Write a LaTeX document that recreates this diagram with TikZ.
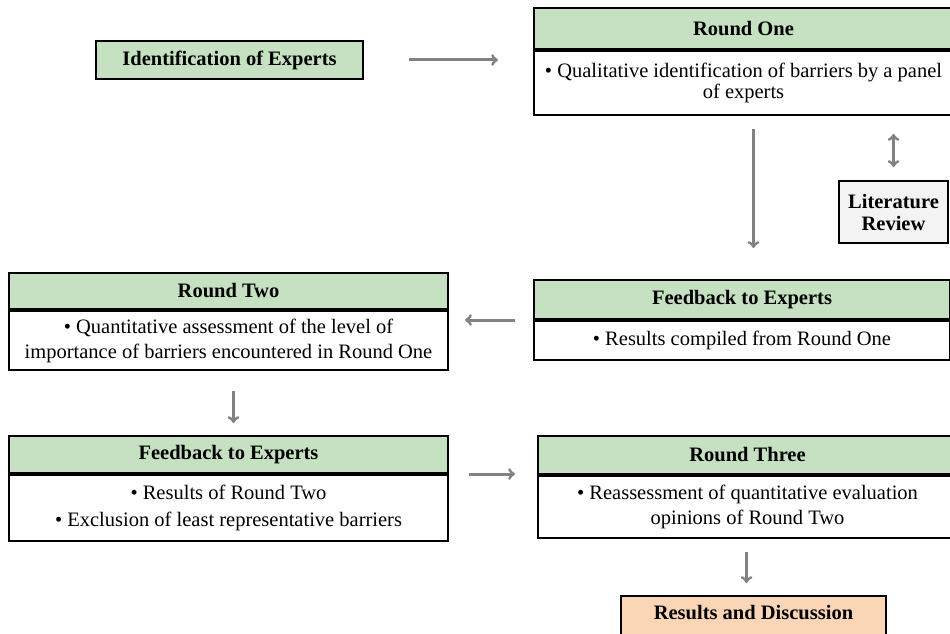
\documentclass[tikz,border=0pt]{standalone}
\usepackage{fontspec}
\setmainfont{Liberation Serif}
\usetikzlibrary{positioning}

\definecolor{hdgreen}{RGB}{197,225,193}
\definecolor{respeach}{RGB}{250,213,182}
\definecolor{litgray}{RGB}{243,243,243}
\definecolor{arrgray}{RGB}{130,130,130}

\begin{document}
\begin{tikzpicture}[x=1pt, y=-1pt, line width=2pt,
  head/.style={draw, fill=hdgreen, anchor=north west, inner sep=0pt,
    font=\fontsize{20.5}{22}\selectfont\bfseries},
  body/.style={draw, fill=white, anchor=north, align=center, inner sep=0pt,
    font=\fontsize{20.5}{25}\selectfont},
  flow/.style={->, arrgray, line width=3pt}]

\useasboundingbox (0,0) rectangle (950,634);

% top row
\node[head, minimum width=267, minimum height=38] (ident) at (95,40) {Identification of Experts};

\node[head, minimum width=419, minimum height=41] (r1head) at (533,7) {Round One};
\node[body, minimum width=419, minimum height=64] (r1body) at (r1head.south)
  {\textbullet{} Qualitative identification of barriers by a panel\\[-4pt]of experts};

\node[head, fill=litgray, align=center, minimum width=109, minimum height=62] (lit) at (838,180)
  {Literature\\Review};

% middle row
\node[head, minimum width=416, minimum height=39] (fb1head) at (533,279) {Feedback to Experts};
\node[body, minimum width=416, minimum height=39] (fb1body) at (fb1head.south)
  {\textbullet{} Results compiled from Round One};

\node[head, minimum width=439, minimum height=36] (r2head) at (8,272) {Round Two};
\node[body, minimum width=439, minimum height=59] (r2body) at (r2head.south)
  {\textbullet{} Quantitative assessment of the level of\\importance of barriers encountered in Round One};

% bottom row
\node[head, minimum width=439, minimum height=37] (fb2head) at (8,435) {Feedback to Experts};
\node[body, minimum width=439, minimum height=66] (fb2body) at (fb2head.south)
  {\textbullet{} Results of Round Two\\[2pt]\textbullet{} Exclusion of least representative barriers};

\node[head, minimum width=419, minimum height=38] (r3head) at (537,435) {Round Three};
\node[body, minimum width=419, minimum height=62] (r3body) at (r3head.south)
  {\textbullet{} Reassessment of quantitative evaluation\\opinions of Round Two};

\node[head, fill=respeach, minimum width=265, minimum height=56,
  text height=14pt, text depth=24pt] (res) at (620,595) {Results and Discussion};

% arrows
\draw[flow, shorten <=45, shorten >=35] (ident.east) -- (ident.east -| r1head.west);
\draw[flow, shorten <=13, shorten >=31] ([xshift=10]r1body.south) -- ([xshift=10]r1body.south |- fb1head.north);
\draw[flow, <->, shorten <=18, shorten >=13] (lit.north |- r1body.south) -- (lit.north);
\draw[flow, shorten <=18, shorten >=16] (fb1head.south west) -- (fb1head.south west -| r2body.east);
\draw[flow, shorten <=20, shorten >=12] ([xshift=5]r2body.south) -- ([xshift=5]r2body.south |- fb2head.north);
\draw[flow, shorten <=20, shorten >=22] (fb2head.south east) -- (fb2head.south east -| r3head.west);
\draw[flow, shorten <=13, shorten >=12] ([xshift=-7]res.north |- r3body.south) -- ([xshift=-7]res.north);

\end{tikzpicture}
\end{document}
